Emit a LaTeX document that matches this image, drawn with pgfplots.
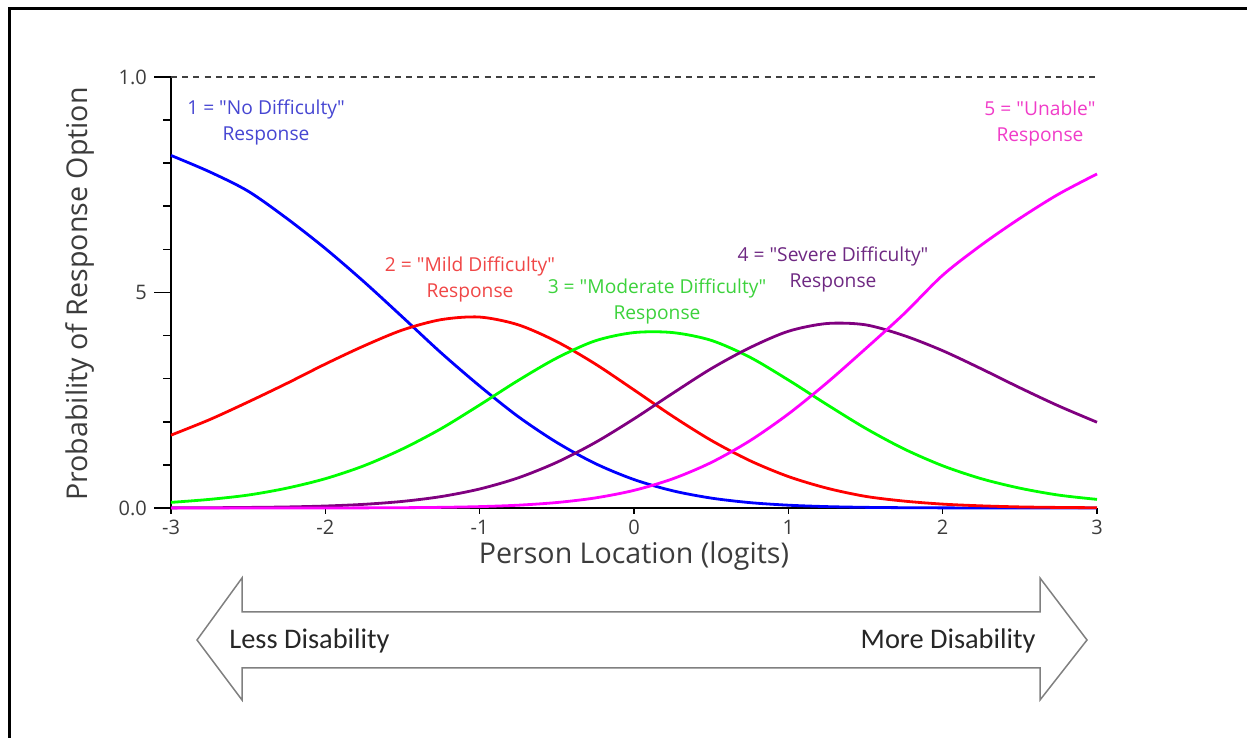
\documentclass[border=0pt]{standalone}
\usepackage{pgfplots}
\pgfplotsset{compat=1.18}
\usepackage{fontspec}
\setmainfont{Open Sans}
\newfontfamily\calib{Carlito}
\definecolor{tblue}{RGB}{70,70,210}
\definecolor{tred}{RGB}{240,70,70}
\definecolor{tgreen}{RGB}{60,210,60}
\definecolor{tpurple}{RGB}{110,40,130}
\definecolor{tmag}{RGB}{240,60,200}
\definecolor{cblue}{RGB}{0,0,255}
\definecolor{cred}{RGB}{255,0,0}
\definecolor{cgreen}{RGB}{0,255,0}
\definecolor{cpurple}{RGB}{128,0,128}
\definecolor{cmag}{RGB}{255,0,255}
\definecolor{txt}{RGB}{60,60,60}
\newcommand{\q}{\textquotedbl}

\pgfplotstableread{
x     p0     p1     p2     p3     p4
-3    0.818  0.169  0.013  0.0003 0.0000
-2.75 0.780  0.205  0.020  0.0006 0.0000
-2.5  0.735  0.246  0.030  0.0013 0.0000
-2.25 0.672  0.289  0.046  0.0024 0.0001
-2    0.602  0.334  0.068  0.0046 0.0001
-1.75 0.525  0.376  0.098  0.0085 0.0003
-1.5  0.443  0.413  0.137  0.0153 0.0007
-1.25 0.360  0.437  0.184  0.0265 0.0015
-1    0.283  0.443  0.239  0.0441 0.0032
-0.75 0.212  0.425  0.296  0.0700 0.0065
-0.5  0.152  0.386  0.348  0.1060 0.0127
-0.25 0.103  0.334  0.388  0.1521 0.0234
0     0.066  0.274  0.407  0.2068 0.0409
0.25  0.040  0.213  0.407  0.2659 0.0676
0.5   0.023  0.157  0.389  0.3232 0.1055
0.75  0.0125 0.110  0.350  0.3718 0.1558
1     0.0065 0.073  0.297  0.4100 0.2181
1.25  0.0032 0.046  0.240  0.4280 0.2905
1.5   0.0015 0.027  0.185  0.4250 0.3694
1.75  0.0007 0.016  0.137  0.4000 0.4507
2     0.0003 0.009  0.098  0.3650 0.5400
2.25  0.0001 0.005  0.068  0.3230 0.6100
2.5   0.0000 0.0025 0.046  0.2790 0.6720
2.75  0.0000 0.0013 0.030  0.2370 0.7280
3     0.0000 0.0006 0.020  0.1990 0.7750
}\curves

\begin{document}
\begin{tikzpicture}[x=0.5pt,y=0.5pt]
\path[use as bounding box] (0,0) rectangle (1247,738);
\draw[line width=1.5pt] (9.5,0) -- (9.5,729) -- (1247,729);
\begin{axis}[
  at={(85.5pt,115pt)}, anchor=south west,
  scale only axis, width=463pt, height=215.5pt,
  xmin=-3, xmax=3, ymin=0, ymax=1,
  clip=false,
  axis lines=left, axis line style={-},
  x axis line style={line width=1pt},
  y axis line style={line width=1.4pt},
  xtick={-3,-2,-1,0,1,2,3},
  xticklabels={-3,-2,-1,0,1,2,3},
  ytick={0,0.5,1},
  yticklabels={0.0,5,1.0},
  minor y tick num=4,
  tick align=outside,
  major tick length=8.5pt,
  minor tick length=4pt,
  major x tick style={/pgfplots/major tick length=3pt},
  xticklabel shift={-6pt},
  tick style={black, line width=0.8pt},
  tick label style={font=\fontsize{10}{12}\selectfont, text=txt},
  xlabel={Person Location (logits)},
  ylabel={Probability of Response Option},
  every axis x label/.style={at={(axis description cs:0.5,-0.112)}, anchor=center, font=\fontsize{14.3}{16}\selectfont, text=txt},
  every axis y label/.style={at={(axis description cs:-0.0983,0.4965)}, rotate=90, anchor=center, font=\fontsize{14.3}{16}\selectfont, text=txt},
]
\draw[black!75, line width=0.8pt, dash pattern=on 3pt off 2.6pt] (axis cs:-3,1) -- (axis cs:3,1);
\addplot[cblue, line width=1.4pt, smooth] table[x=x, y=p0] {\curves};
\addplot[cred, line width=1.4pt, smooth] table[x=x, y=p1] {\curves};
\addplot[cgreen, line width=1.4pt, smooth] table[x=x, y=p2] {\curves};
\addplot[cpurple, line width=1.4pt, smooth] table[x=x, y=p3] {\curves};
\addplot[cmag, line width=1.4pt, smooth] table[x=x, y=p4] {\curves};
\end{axis}
\begin{scope}[every node/.style={align=center, font=\fontsize{9.6}{13}\selectfont, inner sep=0pt}]
\node[text=tblue] at (266,616) {1 = \q No Difficulty\q\\Response};
\node[text=tred] at (470,458.5) {2 = \q Mild Difficulty\q\\Response};
\node[text=tgreen] at (657,436.5) {3 = \q Moderate Difficulty\q\\Response};
\node[text=tpurple] at (833,469) {4 = \q Severe Difficulty\q\\Response};
\node[text=tmag] at (1040,614.5) {5 = \q Unable\q\\Response};
\end{scope}
\draw[gray, line width=0.75pt, line join=miter] (197,98) -- (242,160) -- (242,126) -- (1040,126) -- (1040,160) -- (1087,98) -- (1040,38) -- (1040,70) -- (242,70) -- (242,38) -- cycle;
\node[anchor=west, inner sep=0pt, font=\calib\fontsize{14.2}{16}\selectfont, text=black!85] at (229,97) {Less Disability};
\node[anchor=east, inner sep=0pt, font=\calib\fontsize{14.2}{16}\selectfont, text=black!85] at (1036,97) {More Disability};
\end{tikzpicture}
\end{document}
